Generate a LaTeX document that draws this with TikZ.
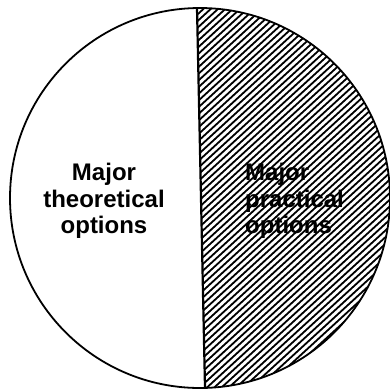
\documentclass[tikz,border=0pt]{standalone}
\usepackage{fontspec}
\setsansfont{Liberation Sans}
\usetikzlibrary{calc}
\tikzset{
  rim/.style   ={line width=1.8pt},
  split/.style ={line width=2.2pt},
  hatch/.style ={line width=1.8pt},
  txt/.style   ={font=\sffamily\bfseries\fontsize{24}{26.5}\selectfont, inner sep=0pt},
}
\begin{document}
\begin{tikzpicture}[x=1pt,y=-1pt]
  \useasboundingbox (0,0) rectangle (390,389);
  \coordinate (c)   at (200,198);
  \coordinate (top) at (197,8);
  \coordinate (bot) at (205,388);

  % hatched half
  \begin{scope}
    \clip (c) circle[radius=190pt];
    \clip (top) -- (bot) -- (400,400) -- (400,-10) -- cycle;
    \foreach \x in {-240,-232.7,...,400}
      \draw[hatch] (\x,389) -- ++(424,-389);
  \end{scope}

  % outline and divider
  \draw[rim]   (c) circle[radius=190pt];
  \draw[split] (top) -- (bot);

  % labels
  \node[txt, align=center]            (theory)   at (104,201) {Major\\theoretical\\options};
  \node[txt, align=left, anchor=west] (practice) at (245,201) {Major\\practical\\options};
\end{tikzpicture}
\end{document}
